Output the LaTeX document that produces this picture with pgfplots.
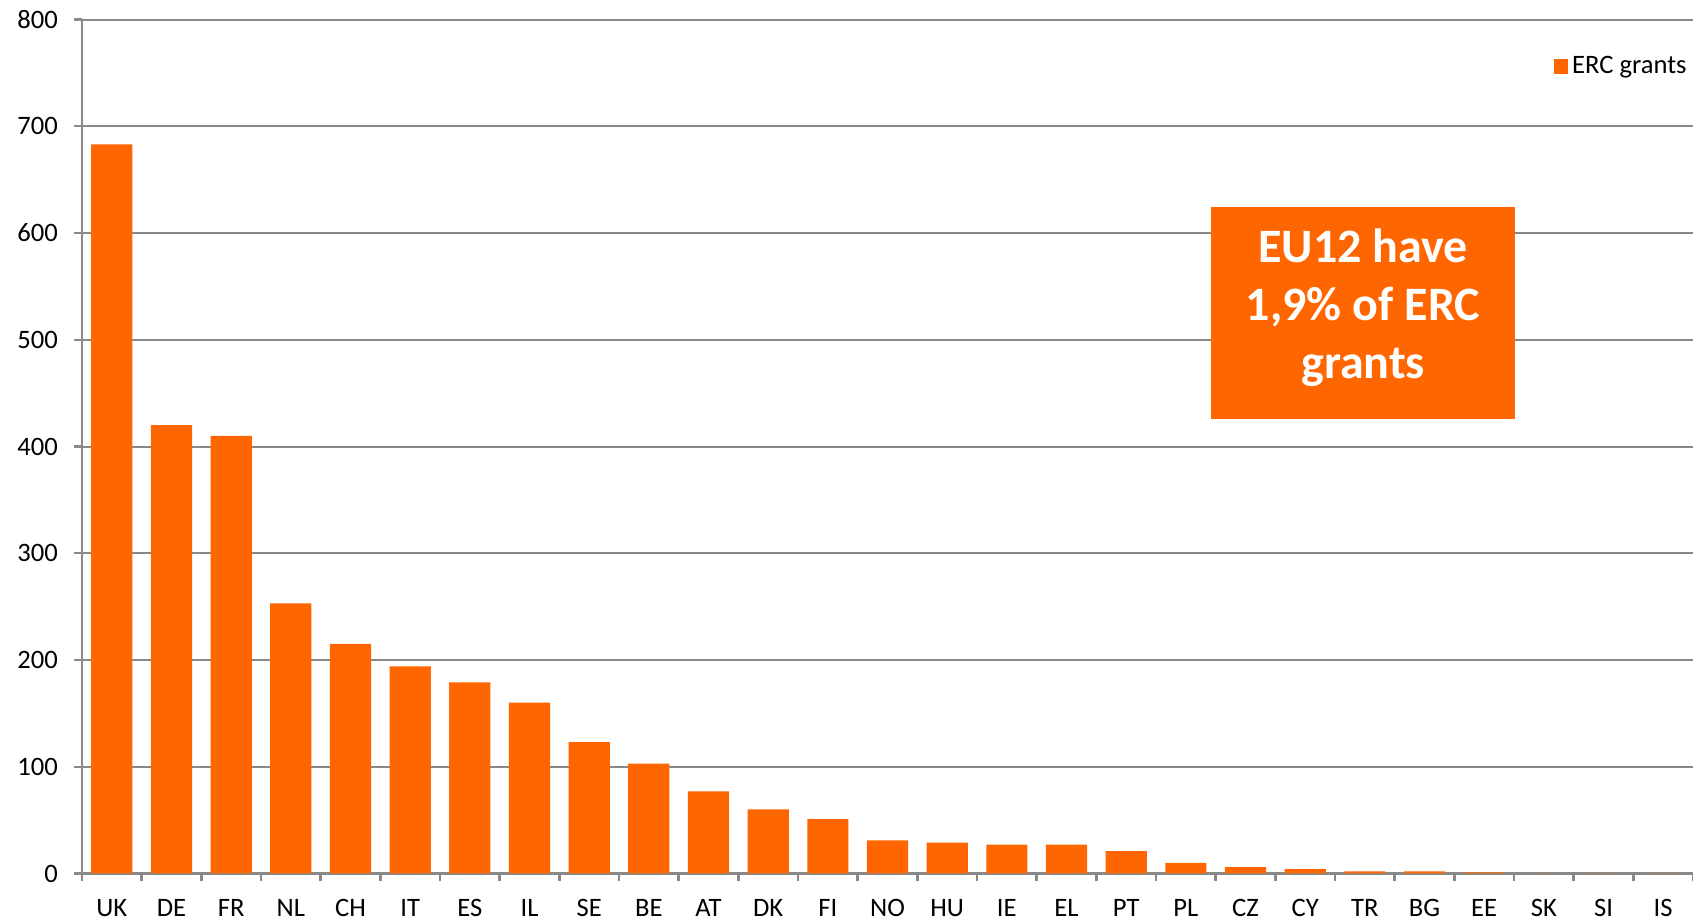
\documentclass[border=0pt]{standalone}
\usepackage{fontspec}
\setmainfont{Carlito}
\usepackage{pgfplots}
\pgfplotsset{compat=1.18}
\definecolor{barorange}{HTML}{FF6600}
\definecolor{gridgray}{HTML}{898989}
\begin{document}
\begin{tikzpicture}
\begin{axis}[
  scale only axis,
  width=805.5pt, height=427pt,
  at={(0,0)}, anchor=south west,
  xmin=-0.5, xmax=26.5,
  ymin=0, ymax=800,
  ytick={0,100,...,800},
  xtick={-0.5,0.5,...,26.5},
  x tick label as interval,
  xticklabels={UK,DE,FR,NL,CH,IT,ES,IL,SE,BE,AT,DK,FI,NO,HU,IE,EL,PT,PL,CZ,CY,TR,BG,EE,SK,SI,IS},
  axis x line*=bottom, axis y line*=left,
  axis line style={gridgray, line width=1.2pt, -},
  ymajorgrids,
  major grid style={gridgray, line width=1pt},
  tick style={gridgray, line width=1.2pt},
  major tick length=4pt,
  tick align=outside,
  /pgf/number format/assume math mode=true,
  ticklabel style={font=\fontsize{13.3}{15}\selectfont, text=black},
  yticklabel style={xshift=-4.5pt},
  xticklabel style={yshift=-5.5pt},
  legend style={draw=none, fill=none, at={(1,0.945)}, anchor=east, font=\fontsize{13.3}{15}\selectfont, legend cell align=left, inner sep=1pt,
    /tikz/every even column/.append style={column sep=0pt}},
  legend image code/.code={\fill[barorange] (0.05cm,-0.125cm) rectangle (0.3cm,0.125cm);},
]
\addplot[ybar, bar width=0.69, fill=barorange, draw=none, bar shift=0pt] coordinates {
(0,683) (1,420) (2,410) (3,253) (4,215) (5,194) (6,179) (7,160) (8,123) (9,103)
(10,77) (11,60) (12,51) (13,31) (14,29) (15,27) (16,27) (17,21) (18,10) (19,6)
(20,4) (21,2) (22,2) (23,1) (24,0) (25,0) (26,0)
};
\addlegendentry{ERC grants}
\fill[barorange] (axis cs:18.42,425.7) rectangle (axis cs:23.52,624.3);
\node[text=white, font=\fontsize{24}{29.2}\selectfont\bfseries, align=center] at (axis cs:20.97,530) {EU12 have\\1,9\% of ERC\\grants};
\end{axis}
\pgfresetboundingbox
\path (-41pt,-23.75pt) rectangle (805.5pt,436.75pt);
\end{tikzpicture}
\end{document}
